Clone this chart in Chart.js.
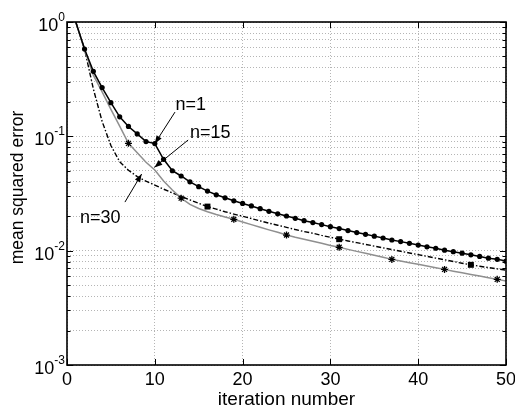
<!DOCTYPE html>
<html>
<head>
<meta charset="utf-8">
<script src="https://cdn.jsdelivr.net/npm/chart.js@4/dist/chart.umd.min.js"></script>
<style>
  html, body { margin: 0; padding: 0; background: #fff; }
  #c { display: block; }
</style>
</head>
<body>
<canvas id="c" width="515" height="409"></canvas>
<script>
// ---- data ----
const iterations = [1,2,3,4,5,6,7,8,9,10,11,12,13,14,15,16,17,18,19,20,21,22,23,24,25,26,27,28,29,30,31,32,33,34,35,36,37,38,39,40,41,42,43,44,45,46,47,48,49,50];

const mseN1 = [1.0, 0.58, 0.37, 0.267, 0.197, 0.148, 0.122, 0.105, 0.090, 0.0865,
  0.063, 0.050, 0.045, 0.040, 0.0363, 0.0332, 0.0308, 0.0290, 0.0273, 0.0259,
  0.0246, 0.0233, 0.0221, 0.0210, 0.0201, 0.0192, 0.0183, 0.0176, 0.0169, 0.0162,
  0.0156, 0.0150, 0.0144, 0.0139, 0.0134, 0.0129, 0.0124, 0.0120, 0.0116, 0.0112,
  0.0108, 0.0105, 0.0101, 0.0098, 0.0095, 0.0092, 0.0089, 0.0086, 0.0084, 0.0081];

const mseN15 = [1.0, 0.569, 0.343, 0.245, 0.172, 0.123, 0.0868, 0.0718, 0.0593, 0.0507,
  0.0407, 0.0339, 0.0288, 0.0254, 0.0234, 0.0219, 0.0207, 0.0197, 0.0188, 0.0178,
  0.0169, 0.0160, 0.0152, 0.0145, 0.0137, 0.0131, 0.0126, 0.0121, 0.0116, 0.0111,
  0.0107, 0.01026, 0.00986, 0.00948, 0.00912, 0.00875, 0.00839, 0.00811, 0.00783, 0.00759,
  0.00733, 0.00708, 0.00686, 0.00662, 0.00641, 0.00619, 0.00600, 0.00579, 0.00561, 0.00542];

const mseN30 = [1.0, 0.58, 0.26, 0.135, 0.083, 0.060, 0.0505, 0.0445, 0.0405, 0.0375,
  0.0345, 0.032, 0.0298, 0.0278, 0.026, 0.0243, 0.0231, 0.0219, 0.0209, 0.0200,
  0.0191, 0.0182, 0.0174, 0.0167, 0.0160, 0.0153, 0.0147, 0.0142, 0.0136, 0.0131,
  0.0126, 0.01216, 0.01175, 0.01135, 0.01096, 0.01059, 0.01023, 0.00989, 0.00955, 0.00923,
  0.00891, 0.00861, 0.00832, 0.00804, 0.00776, 0.00752, 0.00731, 0.00711, 0.00693, 0.00676];

const seriesLabels = ['n=1', 'n=15', 'n=30'];
const xTickLabels = [0, 10, 20, 30, 40, 50];
const yTickExponents = [0, -1, -2, -3];
const xAxisTitle = 'iteration number';
const yAxisTitle = 'mean squared error';

// annotation: label anchor (data coords), arrow tail and tip (data coords)
const annotations = [
  { text: 'n=1',  tx: 12.35, ty: 0.170,  ax: 12.3, ay: 0.163,  bx: 10.0, by: 0.0865 },
  { text: 'n=15', tx: 14.0,  ty: 0.0966, ax: 13.8, ay: 0.0929, bx: 9.95, by: 0.0535 },
  { text: 'n=30', tx: 1.48,  ty: 0.0175, ax: 6.6,  ay: 0.0266, bx: 8.5,  by: 0.0468 }
];

const toXY = (ys) => iterations.map((x, i) => ({ x: x, y: ys[i] }));

const FONT = '"Liberation Sans", Arial, Helvetica, sans-serif';

const framePlugin = {
  id: 'matlabFrame',
  afterDraw(chart) {
    const ctx = chart.ctx;
    const a = chart.chartArea;
    const xs = chart.scales.x, ys = chart.scales.y;
    ctx.save();
    // frame
    ctx.strokeStyle = '#000';
    ctx.lineWidth = 1.6;
    ctx.strokeRect(a.left, a.top, a.right - a.left, a.bottom - a.top);
    // inward ticks on y (left/right)
    ctx.lineWidth = 1;
    ys.ticks.forEach(t => {
      const y = Math.round(ys.getPixelForValue(t.value)) + 0.5;
      const major = Math.abs(Math.log10(t.value) - Math.round(Math.log10(t.value))) < 1e-9;
      const len = major ? 6 : 3.5;
      ctx.beginPath();
      ctx.moveTo(a.left, y); ctx.lineTo(a.left + len, y);
      ctx.moveTo(a.right, y); ctx.lineTo(a.right - len, y);
      ctx.stroke();
    });
    // inward ticks on x (top/bottom)
    xTickLabels.forEach(v => {
      const x = Math.round(xs.getPixelForValue(v)) + 0.5;
      ctx.beginPath();
      ctx.moveTo(x, a.bottom); ctx.lineTo(x, a.bottom - 6);
      ctx.moveTo(x, a.top); ctx.lineTo(x, a.top + 6);
      ctx.stroke();
    });
    // x tick labels
    ctx.fillStyle = '#000';
    ctx.font = '18px ' + FONT;
    ctx.textAlign = 'center';
    ctx.textBaseline = 'alphabetic';
    xTickLabels.forEach(v => {
      const x = xs.getPixelForValue(v);
      ctx.fillText(String(v), x, a.bottom + 20);
    });
    // y tick labels 10^k
    yTickExponents.forEach(e => {
      const y = ys.getPixelForValue(Math.pow(10, e));
      const sup = String(e);
      ctx.font = '12px ' + FONT;
      ctx.textAlign = 'right';
      const supW = ctx.measureText(sup).width;
      const supRight = a.left - 2;
      ctx.fillText(sup, supRight, y - 1);
      ctx.font = '18px ' + FONT;
      ctx.fillText('10', supRight - supW, y + 9);
    });
    // axis titles
    ctx.font = '19px ' + FONT;
    ctx.textAlign = 'center';
    ctx.fillText(xAxisTitle, (a.left + a.right) / 2, 405);
    ctx.save();
    ctx.translate(23, (a.top + a.bottom) / 2 - 6);
    ctx.rotate(-Math.PI / 2);
    ctx.font = '17.5px ' + FONT;
    ctx.fillText(yAxisTitle, 0, 0);
    ctx.restore();
    // annotations
    annotations.forEach(an => {
      const ax = xs.getPixelForValue(an.ax), ay = ys.getPixelForValue(an.ay);
      const bx = xs.getPixelForValue(an.bx), by = ys.getPixelForValue(an.by);
      ctx.strokeStyle = '#000';
      ctx.lineWidth = 1;
      ctx.beginPath();
      ctx.moveTo(ax, ay); ctx.lineTo(bx, by);
      ctx.stroke();
      const ang = Math.atan2(by - ay, bx - ax);
      const L = 8, W = 3;
      ctx.beginPath();
      ctx.moveTo(bx, by);
      ctx.lineTo(bx - L * Math.cos(ang) + W * Math.sin(ang), by - L * Math.sin(ang) - W * Math.cos(ang));
      ctx.lineTo(bx - L * Math.cos(ang) - W * Math.sin(ang), by - L * Math.sin(ang) + W * Math.cos(ang));
      ctx.closePath();
      ctx.fillStyle = '#000';
      ctx.fill();
      ctx.font = '18px ' + FONT;
      ctx.textAlign = 'left';
      ctx.fillText(an.text, xs.getPixelForValue(an.tx), ys.getPixelForValue(an.ty));
    });
    ctx.restore();
  }
};

new Chart(document.getElementById('c'), {
  type: 'line',
  data: {
    datasets: [
      {
        label: seriesLabels[0],
        data: toXY(mseN1),
        borderColor: '#000',
        borderWidth: 1.5,
        pointStyle: 'circle',
        pointRadius: (c) => (c.dataIndex === 0 ? 0 : 2.6),
        pointBackgroundColor: '#000',
        pointBorderWidth: 0,
        tension: 0
      },
      {
        label: seriesLabels[1],
        data: toXY(mseN15),
        borderColor: '#8f8f8f',
        borderWidth: 1.5,
        pointStyle: 'star',
        pointRadius: (c) => (c.dataIndex > 0 && c.dataIndex % 6 === 0 ? 3.5 : 0),
        pointBorderColor: '#000',
        pointBorderWidth: 1.3,
        tension: 0
      },
      {
        label: seriesLabels[2],
        data: toXY(mseN30),
        borderColor: '#000',
        borderWidth: 1.4,
        borderDash: [5, 2, 1.5, 2],
        pointStyle: 'rect',
        pointRadius: (c) => (c.dataIndex > 0 && c.dataIndex % 15 === 0 ? 4.2 : 0),
        pointBackgroundColor: '#000',
        pointBorderWidth: 0,
        tension: 0
      }
    ]
  },
  options: {
    responsive: false,
    animation: false,
    events: [],
    layout: { padding: { left: 67, right: 9, top: 22, bottom: 44 } },
    plugins: { legend: { display: false }, tooltip: { enabled: false } },
    scales: {
      x: {
        type: 'linear',
        min: 0, max: 50,
        ticks: { display: false, stepSize: 10 },
        grid: { color: '#b5b5b5', lineWidth: 1, drawTicks: false },
        border: { display: false, dash: [1, 2] }
      },
      y: {
        type: 'logarithmic',
        min: 0.001, max: 1,
        afterBuildTicks: (scale) => {
          const t = [];
          yTickExponents.slice().reverse().forEach(e => {
            for (let m = 1; m <= 9; m++) {
              const v = m * Math.pow(10, e);
              if (v >= 0.001 - 1e-12 && v <= 1 + 1e-12) t.push({ value: v });
            }
          });
          scale.ticks = t;
        },
        ticks: { display: false },
        grid: { color: '#b5b5b5', lineWidth: 1, drawTicks: false },
        border: { display: false, dash: [1, 2] }
      }
    }
  },
  plugins: [framePlugin]
});
</script>
</body>
</html>
